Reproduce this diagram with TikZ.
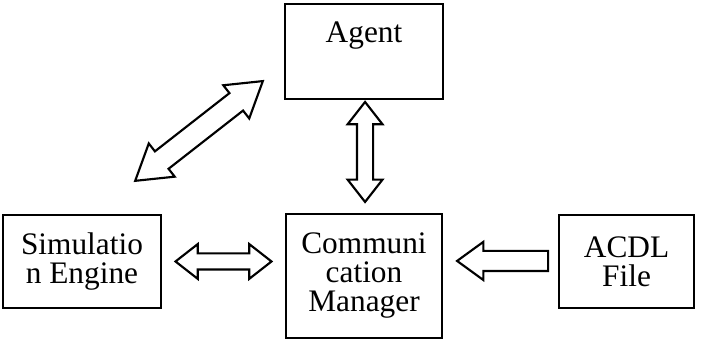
\documentclass[tikz,border=0pt]{standalone}
\usepackage{fontspec}
\setmainfont{Liberation Serif}
\usetikzlibrary{shapes.arrows, calc, positioning}

\begin{document}
\begin{tikzpicture}[x=1pt,y=1pt,
    box/.style={rectangle,draw=black,line width=1.2pt,align=center,inner sep=0pt,
        font=\fontsize{23.5}{21.75}\selectfont},
    dblarrow/.style={double arrow,draw=black,line width=1.6pt,inner xsep=0pt,
        inner ysep=5.25pt,double arrow head extend=7pt,double arrow tip angle=76},
    onearrow/.style={single arrow,draw=black,line width=1.6pt,inner xsep=0pt,
        inner ysep=6.75pt,single arrow head extend=6.75pt,single arrow tip angle=72}]
    \useasboundingbox (0,0) rectangle (537.75,-254.25);

    % Kaesten
    \node[box,minimum width=118.5pt,minimum height=71.25pt,text height=16pt,text depth=30pt] (agent) at (273,-38.6) {Agent};
    \node[box,minimum width=118.5pt,minimum height=69.75pt] (sim) at (61.5,-196.1) {Simulatio\\n Engine};
    \node[box,minimum width=117pt,minimum height=93pt] (comm) at (273,-207) {Communi\\cation\\Manager};
    \node[box,minimum width=101.25pt,minimum height=69.75pt] (acdl) at (469.9,-196.1) {ACDL\\File};

    % Pfeile
    \node[dblarrow,minimum height=75pt,rotate=90] (agentcomm) at ($(agent.south)!0.5!(comm.north)+(0.8,3.4)$) {};
    \node[dblarrow,minimum height=72pt] (simcomm) at ($(sim.east)!0.5!(sim.east -| comm.west)$) {};
    \node[onearrow,minimum height=68.25pt,rotate=180] (acdlcomm) at ($(acdl.west)!0.5!(acdl.west -| comm.east)+(6.75,0.4)$) {};
    \node[dblarrow,minimum height=121.5pt,inner ysep=7.5pt,double arrow head extend=7.5pt,double arrow tip angle=64,rotate=38]
        (simagent) at ($($(sim.north east)!0.5!(agent.south west)$)+(-18,19.5)$) {};
\end{tikzpicture}
\end{document}
